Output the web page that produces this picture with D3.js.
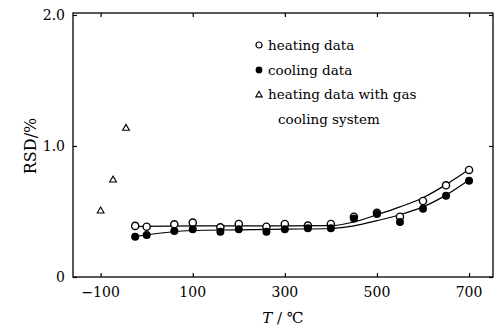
<!DOCTYPE html>
<html>
<head>
<meta charset="utf-8">
<script src="https://cdn.jsdelivr.net/npm/d3@7"></script>
<style>
  html, body { margin: 0; padding: 0; background: #fff; overflow: hidden; }
  svg { display: block; }
  svg text { font-family: 'DejaVu Serif', serif; fill: #000; }
</style>
</head>
<body>
<div id="chart"></div>
<script>
// Measured points
const temps = [-25, 0, 60, 100, 160, 200, 260, 300, 350, 400, 450, 500, 550, 600, 650, 700]
const heating = [0.39, 0.384, 0.402, 0.415, 0.379, 0.405, 0.384, 0.405, 0.392, 0.405, 0.46, 0.49, 0.46, 0.58, 0.70, 0.817]
const cooling = [0.308, 0.32, 0.351, 0.364, 0.346, 0.364, 0.346, 0.364, 0.372, 0.372, 0.446, 0.48, 0.42, 0.52, 0.62, 0.735]

// Heating data with gas cooling system
const gasTemps = [-100, -73, -45]
const gasHeating = [0.504, 0.74, 1.135]

// Fitted curves
const fitTemps = [-25, 100, 200, 300, 400, 450, 500, 550, 600, 650, 700]
const heatingFit = [0.385, 0.39, 0.39, 0.39, 0.392, 0.42, 0.475, 0.535, 0.605, 0.705, 0.82]
const coolingFit = [0.31, 0.355, 0.36, 0.365, 0.37, 0.39, 0.43, 0.475, 0.535, 0.625, 0.74]

const xTicks = [-100, 100, 300, 500, 700]
const xTickLabels = ['\u2212100', '100', '300', '500', '700']
const yTicks = [0, 1.0, 2.0]
const yTickLabels = ['0', '1.0', '2.0']

const legendLabels = ['heating data', 'cooling data', 'heating data with gas', 'cooling system']

const width = 503
const height = 331
const margin = { top: 13, right: 10, bottom: 54, left: 73 }
const innerWidth = width - margin.left - margin.right
const innerHeight = height - margin.top - margin.bottom

const svg = d3.select('#chart')
  .append('svg')
  .attr('width', width)
  .attr('height', height)

const g = svg.append('g')
  .attr('transform', `translate(${margin.left}, ${margin.top})`)

// Scales in page coordinates so labels can sit straight on the svg
const xScale = d3.scaleLinear().domain([-160, 752]).range([0, innerWidth])
const yScale = d3.scaleLinear().domain([0, 2.015]).range([innerHeight, 0])

//===========================================================================

// Inward ticks on all four sides - labels are drawn separately below
const xAxisBottom = d3.axisBottom(xScale).tickValues(xTicks).tickSizeInner(-4).tickSizeOuter(0).tickFormat('')
const xAxisTop = d3.axisTop(xScale).tickValues(xTicks).tickSizeInner(-4).tickSizeOuter(0).tickFormat('')
const yAxisLeft = d3.axisLeft(yScale).tickValues(yTicks).tickSizeInner(-4).tickSizeOuter(0).tickFormat('')
const yAxisRight = d3.axisRight(yScale).tickValues(yTicks).tickSizeInner(-4).tickSizeOuter(0).tickFormat('')

g.append('g').attr('class', 'x axis')
  .attr('transform', `translate(0, ${innerHeight})`)
  .call(xAxisBottom)
g.append('g').attr('class', 'x axis top').call(xAxisTop)
g.append('g').attr('class', 'y axis').call(yAxisLeft)
g.append('g').attr('class', 'y axis right')
  .attr('transform', `translate(${innerWidth}, 0)`)
  .call(yAxisRight)

g.selectAll('.axis .domain').remove()
g.selectAll('.axis text').remove()
g.selectAll('.axis line').attr('stroke', '#000').attr('stroke-width', 1.2)

// Tick labels
svg.selectAll('.x-label')
  .data(xTicks)
  .join('text')
  .attr('class', 'x-label')
  .attr('x', d => margin.left + xScale(d))
  .attr('y', margin.top + innerHeight + 20)
  .attr('text-anchor', 'middle')
  .style('font-size', '14px')
  .text((d, i) => xTickLabels[i])

svg.selectAll('.y-label')
  .data(yTicks)
  .join('text')
  .attr('class', 'y-label')
  .attr('x', margin.left - 8)
  .attr('y', d => margin.top + yScale(d) + 5)
  .attr('text-anchor', 'end')
  .style('font-size', '14px')
  .text((d, i) => yTickLabels[i])

// Frame
g.append('rect')
  .attr('x', 0)
  .attr('y', 0)
  .attr('width', innerWidth)
  .attr('height', innerHeight)
  .attr('fill', 'none')
  .attr('stroke', '#000')
  .attr('stroke-width', 1.3)

// Axis titles
svg.append('text')
  .attr('transform', `translate(36, ${margin.top + yScale(1.0)}) rotate(-90)`)
  .attr('text-anchor', 'middle')
  .style('font-size', '16px')
  .text('RSD/%')

const xTitle = svg.append('text')
  .attr('x', margin.left + xScale(300) - 2)
  .attr('y', 323)
  .attr('text-anchor', 'middle')
  .style('font-size', '15px')
xTitle.append('tspan').style('font-style', 'italic').text('T')
xTitle.append('tspan').text(' / \u2103')

//===========================================================================

// Fitted lines
const fitLine = d3.line()
  .x((d, i) => xScale(fitTemps[i]))
  .y(d => yScale(d))
  .curve(d3.curveMonotoneX)

g.append('path')
  .datum(heatingFit)
  .attr('fill', 'none')
  .attr('stroke', '#000')
  .attr('stroke-width', 1.2)
  .attr('d', fitLine)

g.append('path')
  .datum(coolingFit)
  .attr('fill', 'none')
  .attr('stroke', '#000')
  .attr('stroke-width', 1.2)
  .attr('d', fitLine)

// Heating points (open) go under cooling (filled)
g.selectAll('.pt-heat')
  .data(heating)
  .join('circle')
  .attr('class', 'pt-heat')
  .attr('cx', (d, i) => xScale(temps[i]))
  .attr('cy', d => yScale(d))
  .attr('r', 3.6)
  .attr('fill', '#fff')
  .attr('stroke', '#000')
  .attr('stroke-width', 1.4)

g.selectAll('.pt-cool')
  .data(cooling)
  .join('circle')
  .attr('class', 'pt-cool')
  .attr('cx', (d, i) => xScale(temps[i]))
  .attr('cy', d => yScale(d))
  .attr('r', 4)
  .attr('fill', '#000')

const triangle = d3.symbol().type(d3.symbolTriangle).size(20)

g.selectAll('.pt-gas')
  .data(gasHeating)
  .join('path')
  .attr('class', 'pt-gas')
  .attr('transform', (d, i) => `translate(${xScale(gasTemps[i])}, ${yScale(d)})`)
  .attr('d', triangle)
  .attr('fill', 'none')
  .attr('stroke', '#000')
  .attr('stroke-width', 1.1)

//===========================================================================

// Legend
const legend = svg.append('g').attr('transform', 'translate(259, 0)')

legend.append('circle')
  .attr('cx', 0).attr('cy', 45).attr('r', 3)
  .attr('fill', '#fff').attr('stroke', '#000').attr('stroke-width', 1.2)
legend.append('circle')
  .attr('cx', 0).attr('cy', 70).attr('r', 3.4)
  .attr('fill', '#000')
legend.append('path')
  .attr('transform', 'translate(0, 95)')
  .attr('d', d3.symbol().type(d3.symbolTriangle).size(18))
  .attr('fill', 'none').attr('stroke', '#000').attr('stroke-width', 1.1)

legend.selectAll('.legend-text')
  .data(legendLabels)
  .join('text')
  .attr('class', 'legend-text')
  .attr('x', (d, i) => i === 3 ? 19 : 9)
  .attr('y', (d, i) => 50 + i * 24.5)
  .style('font-size', '13.5px')
  .text(d => d)
</script>
</body>
</html>
